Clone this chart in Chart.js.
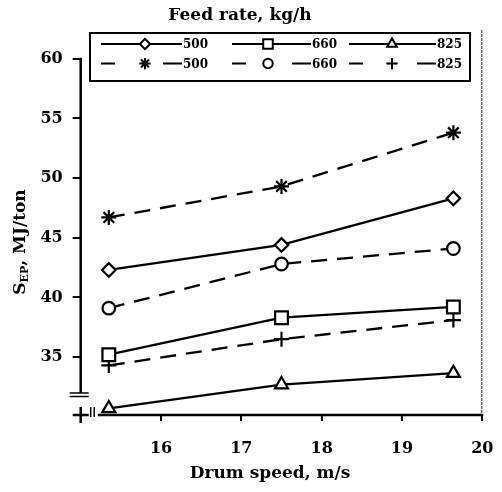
<!DOCTYPE html>
<html>
<head>
<meta charset="utf-8">
<script src="https://cdn.jsdelivr.net/npm/chart.js@4.4.1/dist/chart.umd.min.js"></script>
<style>
    html, body { margin: 0; padding: 0; background: #fff; }
    #wrap { width: 502px; height: 492px; }
</style>
</head>
<body>
<div id="wrap"><canvas id="chart" width="502" height="492"></canvas></div>
<script>
// Drum speed, m/s
const drumSpeed = [15.35, 17.5, 19.64];
// S_EP, MJ/ton - solid lines
const solid500 = [42.3, 44.4, 48.3];
const solid660 = [35.2, 38.3, 39.2];
const solid825 = [30.7, 32.7, 33.65];
// S_EP, MJ/ton - dashed lines
const dashed500 = [46.7, 49.3, 53.8];
const dashed660 = [39.1, 42.8, 44.1];
const dashed825 = [34.3, 36.5, 38.1];
// axes
const yTicks = [35, 40, 45, 50, 55, 60];
const xTicks = [16, 17, 18, 19, 20];

const FONT = '"DejaVu Serif", "Liberation Serif", serif';
const DASH = [16, 10];

function makeSet(label, values, style, radius, dashed) {
    return {
        label: label,
        data: drumSpeed.map((x, i) => ({ x: x, y: values[i] })),
        borderColor: '#000',
        borderWidth: 2.3,
        borderDash: dashed ? DASH : [],
        pointStyle: style,
        pointRadius: radius,
        pointBackgroundColor: '#fff',
        pointBorderColor: '#000',
        pointBorderWidth: 2.2,
        tension: 0,
        clip: false
    };
}

const datasets = [
    makeSet('500', solid500, 'rectRot', 6.8, false),
    makeSet('660', solid660, 'rect', 9, false),
    makeSet('825', solid825, 'triangle', 7.5, false),
    makeSet('500', dashed500, 'star', 7.5, true),
    makeSet('660', dashed660, 'circle', 6.3, true),
    makeSet('825', dashed825, 'cross', 7.5, true)
];

// point marker, same as the chart uses
function marker(ctx, ds, x, y, scale) {
    ctx.save();
    ctx.setLineDash([]);
    ctx.fillStyle = '#fff';
    ctx.strokeStyle = '#000';
    ctx.lineWidth = 2;
    Chart.helpers.drawPoint(ctx, {
        pointStyle: ds.pointStyle,
        radius: ds.pointRadius * scale,
        rotation: 0,
        borderWidth: 2
    }, x, y);
    ctx.restore();
}

// axes, break marks, legend box and titles
const decorations = {
    id: 'decorations',
    afterDraw(chart) {
        const ctx = chart.ctx;
        const a = chart.chartArea;
        ctx.save();
        ctx.strokeStyle = '#000';
        ctx.fillStyle = '#000';
        ctx.lineCap = 'butt';

        // y axis line down to the break
        ctx.lineWidth = 2.5;
        ctx.beginPath();
        ctx.moveTo(a.left, a.top - 1);
        ctx.lineTo(a.left, a.bottom - 22);
        ctx.stroke();
        // y break
        ctx.lineWidth = 1.5;
        ctx.beginPath();
        ctx.moveTo(a.left - 11, a.bottom - 22); ctx.lineTo(a.left + 8, a.bottom - 22);
        ctx.moveTo(a.left - 11, a.bottom - 18.5); ctx.lineTo(a.left + 8, a.bottom - 18.5);
        ctx.stroke();
        // origin cross
        ctx.lineWidth = 2.5;
        ctx.beginPath();
        ctx.moveTo(a.left - 8, a.bottom); ctx.lineTo(a.left + 8, a.bottom);
        ctx.moveTo(a.left, a.bottom - 8); ctx.lineTo(a.left, a.bottom + 8);
        ctx.stroke();
        // x break
        ctx.lineWidth = 1.5;
        ctx.beginPath();
        ctx.moveTo(a.left + 10, a.bottom - 8); ctx.lineTo(a.left + 10, a.bottom + 2);
        ctx.moveTo(a.left + 13.5, a.bottom - 8); ctx.lineTo(a.left + 13.5, a.bottom + 2);
        ctx.stroke();
        // x axis line
        ctx.lineWidth = 2.5;
        ctx.beginPath();
        ctx.moveTo(a.left + 17, a.bottom);
        ctx.lineTo(a.right + 1, a.bottom);
        ctx.stroke();
        // right frame (thin, dotted)
        ctx.lineWidth = 1;
        ctx.strokeStyle = '#333';
        ctx.setLineDash([3, 1]);
        ctx.beginPath();
        ctx.moveTo(a.right - 0.5, 30);
        ctx.lineTo(a.right - 0.5, a.bottom);
        ctx.stroke();
        ctx.setLineDash([]);
        ctx.strokeStyle = '#000';

        // legend box
        const box = { l: 90, t: 33, r: 470, b: 81 };
        ctx.fillStyle = '#fff';
        ctx.fillRect(box.l, box.t, box.r - box.l, box.b - box.t);
        ctx.lineWidth = 2;
        ctx.strokeRect(box.l, box.t, box.r - box.l, box.b - box.t);
        const cols = [
            { x0: 101, x1: 182, mx: 145 },
            { x0: 232, x1: 311, mx: 268 },
            { x0: 349, x1: 436, mx: 392 }
        ];
        const rows = [44, 63.5];
        ctx.font = 'bold 12px ' + FONT;
        ctx.textBaseline = 'middle';
        ctx.textAlign = 'left';
        datasets.forEach((ds, i) => {
            const c = cols[i % 3];
            const y = rows[Math.floor(i / 3)];
            ctx.strokeStyle = '#000';
            ctx.lineWidth = 2;
            ctx.beginPath();
            if (ds.borderDash.length) {
                ctx.moveTo(c.x0, y); ctx.lineTo(c.x0 + 14, y);
                ctx.moveTo(c.x1 - 19, y); ctx.lineTo(c.x1, y);
            } else {
                ctx.moveTo(c.x0, y); ctx.lineTo(c.x1, y);
            }
            ctx.stroke();
            marker(ctx, ds, c.mx, y, 0.75);
            ctx.fillStyle = '#000';
            ctx.fillText(ds.label, c.x1 + 1, y + 1);
        });

        // titles
        ctx.fillStyle = '#000';
        ctx.textAlign = 'center';
        ctx.textBaseline = 'alphabetic';
        ctx.font = 'bold 17px ' + FONT;
        ctx.fillText('Feed rate, kg/h', 240, 20);
        ctx.font = 'bold 17px ' + FONT;
        ctx.fillText('Drum speed, m/s', 270, 478);

        // y title with subscript
        ctx.save();
        ctx.translate(25, 242);
        ctx.rotate(-Math.PI / 2);
        const big = 'bold 17px ' + FONT;
        const small = 'bold 11px ' + FONT;
        ctx.font = big; const wS = ctx.measureText('S').width;
        ctx.font = small; const wE = ctx.measureText('EP').width;
        ctx.font = big; const wR = ctx.measureText(', MJ/ton').width;
        let x = -(wS + wE + wR) / 2;
        ctx.textAlign = 'left';
        ctx.font = big; ctx.fillText('S', x, 0); x += wS;
        ctx.font = small; ctx.fillText('EP', x, 3); x += wE;
        ctx.font = big; ctx.fillText(', MJ/ton', x, 0);
        ctx.restore();

        ctx.restore();
    }
};

new Chart(document.getElementById('chart').getContext('2d'), {
    type: 'line',
    data: { datasets: datasets },
    options: {
        responsive: false,
        animation: false,
        devicePixelRatio: 1,
        layout: { padding: { top: 58.7, right: 19.7, left: 0, bottom: 0 } },
        plugins: {
            legend: { display: false },
            tooltip: { enabled: false }
        },
        scales: {
            x: {
                type: 'linear',
                min: 15,
                max: 20,
                afterBuildTicks: (s) => { s.ticks = xTicks.map(v => ({ value: v })); },
                afterFit: (s) => { s.height = 77; s.paddingLeft = 0; s.paddingRight = 0; },
                border: { display: false },
                grid: { drawOnChartArea: false, drawTicks: true, tickLength: 6, color: '#000', lineWidth: 2 },
                ticks: {
                    color: '#000',
                    padding: 18,
                    maxRotation: 0,
                    font: { family: FONT, size: 16, weight: 'bold' }
                }
            },
            y: {
                type: 'linear',
                min: 30.15,
                max: 60,
                afterBuildTicks: (s) => { s.ticks = yTicks.map(v => ({ value: v })); },
                afterFit: (s) => { s.width = 80.7; s.paddingTop = 0; s.paddingBottom = 0; },
                border: { display: false },
                grid: { drawOnChartArea: false, drawTicks: true, tickLength: 8, color: '#000', lineWidth: 2 },
                ticks: {
                    color: '#000',
                    padding: 10,
                    font: { family: FONT, size: 16, weight: 'bold' }
                }
            }
        }
    },
    plugins: [decorations]
});
</script>
</body>
</html>
